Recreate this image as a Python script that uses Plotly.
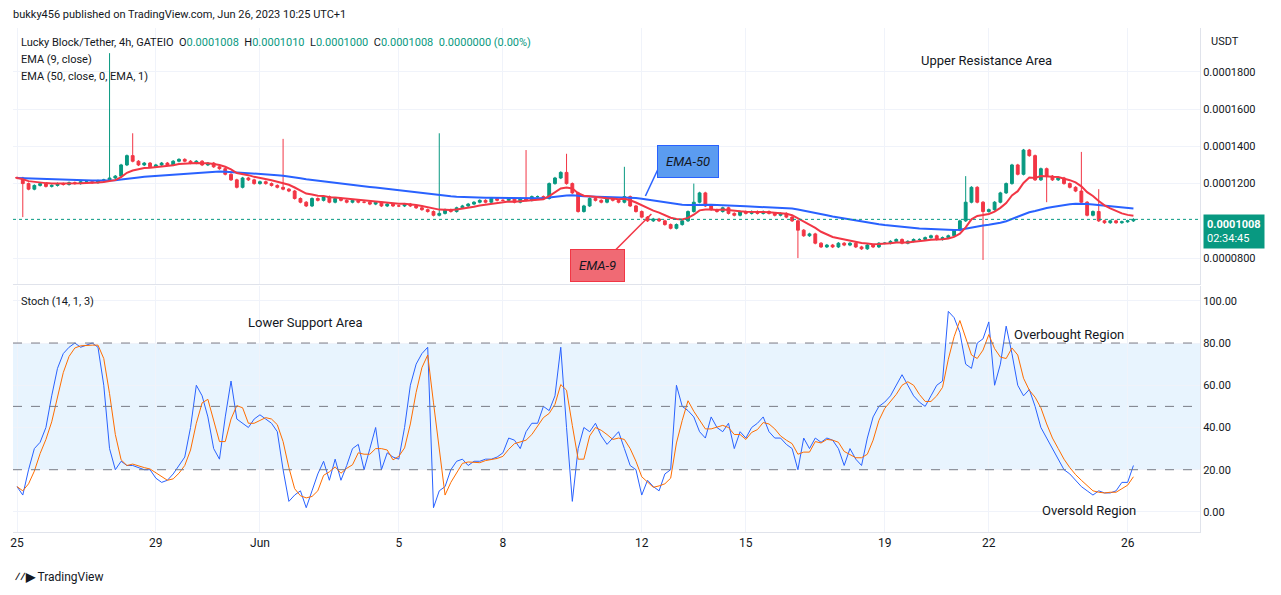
import pandas as pd
import plotly.graph_objects as go
from plotly.subplots import make_subplots

# 4h candles from May 25 00:00, price in units of 1e-7
start = pd.Timestamp("2023-05-25 00:00")
closes = [
    1230, 1200, 1170, 1190, 1200, 1185,
    1190, 1200, 1195, 1205, 1200, 1210,
    1210, 1205, 1215, 1220, 1230, 1240,
    1300, 1350, 1320, 1300, 1310, 1290,
    1300, 1310, 1300, 1320, 1330, 1320,
    1310, 1320, 1300, 1310, 1290, 1280,
    1250, 1220, 1180, 1230, 1220, 1200,
    1210, 1200, 1190, 1180, 1170, 1160,
    1120, 1100, 1080, 1120, 1110, 1130,
    1100, 1120, 1110, 1100, 1110, 1100,
    1100, 1090, 1100, 1080, 1090, 1080,
    1080, 1090, 1080, 1070, 1060, 1050,
    1030, 1040, 1060, 1050, 1070, 1080,
    1090, 1100, 1110, 1100, 1120, 1110,
    1110, 1120, 1100, 1120, 1110, 1130,
    1130, 1120, 1200, 1230, 1260, 1200,
    1150, 1050, 1080, 1120, 1110, 1100,
    1120, 1110, 1100, 1130, 1080, 1050,
    1020, 1000, 1010, 1000, 980, 960,
    980, 1000, 1050, 1100, 1150, 1080,
    1060, 1050, 1070, 1040, 1030, 1050,
    1040, 1050, 1040, 1050, 1040, 1030,
    1040, 1020, 1000, 950, 920, 930,
    880, 860, 870, 860, 880, 870,
    880, 860, 850, 870, 860, 880,
    880, 890, 900, 880, 890, 900,
    900, 910, 920, 900, 910, 920,
    950, 1000, 1100, 1180, 1100, 1050,
    1060, 1100, 1150, 1200, 1300, 1250,
    1380, 1350, 1220, 1280, 1240, 1220,
    1230, 1200, 1180, 1160, 1100, 1030,
    1050, 1000, 990, 1000, 990, 995,
    1000, 1008,
]
# wick spikes: candle index -> high / low
spike_highs = {16: 1900, 20: 1470, 46: 1440, 73: 1470, 88: 1380, 95: 1360, 105: 1290,
               117: 1200, 164: 1240, 176: 1290, 184: 1370, 187: 1170}
spike_lows = {1: 1020, 135: 800, 167: 790, 178: 1100}

stoch_k = [
    12, 8, 20, 30, 33, 40,
    55, 68, 75, 78, 80, 78,
    79, 80, 78, 60, 30, 20,
    24, 22, 22, 21, 20, 20,
    16, 14, 15, 18, 22, 26,
    40, 60, 55, 45, 30, 25,
    45, 62, 44, 42, 40, 44,
    46, 44, 42, 38, 20, 5,
    8, 10, 2, 10, 18, 24,
    15, 25, 15, 22, 30, 32,
    20, 30, 40, 20, 28, 26,
    25, 40, 60, 70, 75, 78,
    2, 10, 12, 20, 24, 25,
    22, 24, 24, 25, 25, 26,
    28, 35, 34, 30, 38, 42,
    42, 50, 48, 55, 78, 40,
    5, 30, 40, 38, 42, 36,
    32, 35, 38, 30, 22, 20,
    8, 15, 12, 10, 18, 20,
    60, 50, 48, 45, 38, 35,
    45, 40, 38, 42, 30, 38,
    35, 40, 42, 45, 38, 35,
    35, 32, 30, 20, 35, 30,
    35, 33, 35, 34, 30, 22,
    30, 25, 22, 35, 45, 50,
    52, 55, 60, 65, 60, 55,
    52, 50, 55, 60, 62, 95,
    92, 85, 70, 68, 80, 82,
    90, 60, 70, 88, 75, 60,
    55, 58, 50, 40, 35, 30,
    25, 20, 18, 15, 12, 10,
    8, 10, 9, 9, 10, 14,
    14, 22,
]
tick_dates = ["2023-05-25", "2023-05-29", "2023-06-01", "2023-06-05", "2023-06-08",
              "2023-06-12", "2023-06-15", "2023-06-19", "2023-06-22", "2023-06-26"]
tick_text = ["25", "29", "Jun", "5", "8", "12", "15", "19", "22", "26"]
price_ticks = [0.00008, 0.00012, 0.00014, 0.00016, 0.00018]
stoch_ticks = [0, 20, 40, 60, 80, 100]
stoch_levels = [20, 50, 80]

n = len(closes)
t = [start + pd.Timedelta(hours=4 * i) for i in range(n)]
c = pd.Series(closes, dtype=float) * 1e-7
o = c.shift(1).fillna(c.iloc[0] + 2e-7)
hi = pd.concat([o, c], axis=1).max(axis=1) + 0.6e-6
lo = pd.concat([o, c], axis=1).min(axis=1) - 0.6e-6
for k, v in spike_highs.items():
    hi[k] = max(hi[k], v * 1e-7)
for k, v in spike_lows.items():
    lo[k] = min(lo[k], v * 1e-7)
ema9 = c.ewm(span=9, adjust=False).mean()
ema50 = c.ewm(span=50, adjust=False).mean()
k = pd.Series(stoch_k, dtype=float)
d = k.rolling(3, min_periods=1).mean()

GREEN, RED, BLUE, ORANGE = "#089981", "#f23645", "#2962ff", "#ff6d00"
fig = make_subplots(rows=2, cols=1, shared_xaxes=True, vertical_spacing=0.004,
                    row_heights=[0.51, 0.49])
fig.add_trace(go.Candlestick(x=t, open=o, high=hi, low=lo, close=c,
                             increasing=dict(line=dict(color=GREEN, width=1), fillcolor=GREEN),
                             decreasing=dict(line=dict(color=RED, width=1), fillcolor=RED),
                             whiskerwidth=0), row=1, col=1)
fig.add_trace(go.Scatter(x=t, y=ema50, mode="lines", line=dict(color=BLUE, width=2)), row=1, col=1)
fig.add_trace(go.Scatter(x=t, y=ema9, mode="lines", line=dict(color=RED, width=2)), row=1, col=1)
fig.add_shape(type="line", xref="paper", x0=0, x1=1, yref="y", y0=c.iloc[-1], y1=c.iloc[-1],
              line=dict(color=GREEN, width=1, dash="dot"))

fig.add_shape(type="rect", xref="paper", x0=0, x1=1, yref="y2", y0=20, y1=80,
              fillcolor="rgba(33,150,243,0.1)", line_width=0, layer="below")
for lv in stoch_levels:
    fig.add_shape(type="line", xref="paper", x0=0, x1=1, yref="y2", y0=lv, y1=lv,
                  line=dict(color="#787b86", width=1, dash="dash"))
fig.add_trace(go.Scatter(x=t, y=k, mode="lines", line=dict(color=BLUE, width=1)), row=2, col=1)
fig.add_trace(go.Scatter(x=t, y=d, mode="lines", line=dict(color=ORANGE, width=1)), row=2, col=1)

x0 = pd.Timestamp("2023-05-24 21:14")
x1 = x0 + pd.Timedelta(days=34.2)
grid = "#f0f3fa"
fig.update_xaxes(range=[x0, x1], showgrid=True, gridcolor=grid, rangeslider_visible=False,
                 tickvals=pd.to_datetime(tick_dates), ticktext=tick_text,
                 ticklabeloverflow="allow",
                 tickfont=dict(size=12, color="#131722"), showline=True, linecolor="#e0e3eb",
                 ticks="")
fig.update_yaxes(side="right", showgrid=True, gridcolor=grid, zeroline=False,
                 tickfont=dict(size=11, color="#131722"), showline=True, linecolor="#e0e3eb",
                 ticks="")
fig.update_yaxes(range=[0.0000661, 0.0002035], tickvals=price_ticks, tickformat=".7f", row=1, col=1)
fig.update_yaxes(range=[-9.5, 107], tickvals=stoch_ticks, tickformat=".2f", row=2, col=1)

# reference plot box in screen pixels
W, H = 1281, 595
PL, PR, PT, PB = 10, 1200, 28, 532
OFF = 8  # the page draws the figure 8px in from the top-left
px = lambda v: (v - PL) / (PR - PL)
py = lambda v: (PB - v) / (PB - PT)

ann = []
def txt(x, y, s, size=12, color="#131722", anchor="left"):
    ann.append(dict(xref="paper", yref="paper", x=px(x), y=py(y), text=s, showarrow=False,
                    xanchor=anchor, yanchor="middle", font=dict(size=size, color=color)))

g = "<span style='color:#089981'>%s</span>"
txt(16, 42, "Lucky Block/Tether, 4h, GATEIO  O" + g % "0.0001008" + "  H" + g % "0.0001010"
    + "  L" + g % "0.0001000" + "  C" + g % "0.0001008" + "  " + g % "0.0000000 (0.00%)", 11)
txt(16, 59, "EMA (9, close)", 11)
txt(16, 76, "EMA (50, close, 0, EMA, 1)", 11)
txt(16, 301, "Stoch (14, 1, 3)", 11)
txt(918, 61, "Upper Resistance Area", 13)
txt(244, 323, "Lower Support Area", 13)
txt(1012, 334, "Overbought Region", 13)
txt(1040, 510, "Oversold Region", 13)
txt(1209, 41, "USDT", 11)
txt(8, 14, "bukky456 published on TradingView.com, Jun 26, 2023 10:25 UTC+1", 11)
txt(10, 577, "<b>⁄⁄▶</b> TradingView", 12)
fig.update_layout(annotations=ann)

fig.add_annotation(xref="paper", yref="paper", x=px(687), y=py(145), text="<i>EMA-50</i>",
                   showarrow=False, bgcolor="#5b9cf0", bordercolor="#2962ff",
                   borderpad=8, font=dict(size=13, color="#131722"))
fig.add_shape(type="line", xref="paper", yref="paper", x0=px(660), y0=py(162), x1=px(644), y1=py(196),
              line=dict(color=BLUE, width=1.5))
fig.add_annotation(xref="paper", yref="paper", x=px(596), y=py(265), text="<i>EMA-9</i>",
                   showarrow=False, bgcolor="#f06a74", bordercolor="#f23645",
                   borderpad=8, font=dict(size=13, color="#131722"))
fig.add_shape(type="line", xref="paper", yref="paper", x0=px(614), y0=py(250), x1=px(650), y1=py(214),
              line=dict(color=RED, width=1.5))
fig.add_annotation(xref="paper", yref="paper", x=px(1203), y=py(231),
                   text="<b>0.0001008</b><br>02:34:45", showarrow=False, xanchor="left",
                   align="left", bgcolor=GREEN, borderpad=3, font=dict(size=11, color="white"))

fig.update_layout(width=W, height=H,
                  margin=dict(l=PL - OFF, r=W - PR + OFF, t=PT - OFF, b=H - PB + OFF),
                  showlegend=False, plot_bgcolor="white", paper_bgcolor="white",
                  font=dict(family="Roboto, Arial, sans-serif"))
fig.write_html("out.html")
